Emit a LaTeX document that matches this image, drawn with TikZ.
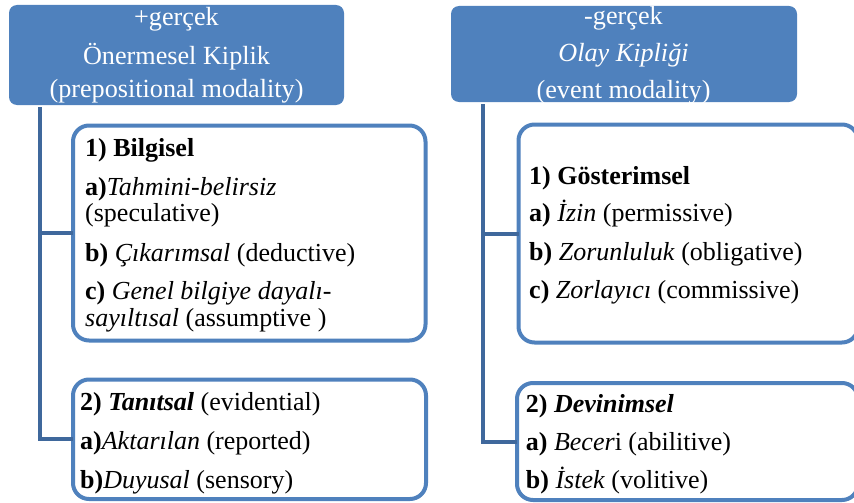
\documentclass[tikz,border=0pt]{standalone}
\usepackage{fontspec}
\setmainfont{Liberation Serif}
\definecolor{hdr}{RGB}{79,129,189}
\definecolor{bord}{RGB}{79,129,189}
\definecolor{connc}{RGB}{63,104,156}
\begin{document}
\begin{tikzpicture}[x=1pt,y=-1pt,
  hdrbox/.style={fill=hdr, draw=none, rounded corners=8pt, inner sep=0pt, outer sep=0pt},
  hdrtxt/.style={text=white, font=\fontsize{26.2}{30}\selectfont, inner sep=0pt, anchor=base},
  catbox/.style={draw=bord, line width=4pt, rounded corners=16pt, inner sep=0pt, outer sep=0pt, fill=white},
  txt/.style={font=\fontsize{26}{27}\selectfont, inner sep=0pt, anchor=base west},
  conn/.style={draw=connc, line width=4pt}]
\useasboundingbox (0,0) rectangle (854,503);

% header boxes
\node[hdrbox, minimum width=335pt, minimum height=100pt] (lh) at (176.5,55) {};
\node[hdrbox, minimum width=346pt, minimum height=96pt] (rh) at (624,54) {};

% category boxes
\node[catbox, minimum width=352.5pt, minimum height=215pt] (lb1) at (249.25,233) {};
\node[catbox, minimum width=353pt, minimum height=119.5pt] (lb2) at (249.5,439.25) {};
\node[catbox, minimum width=339.5pt, minimum height=218pt] (rb1) at (688.25,233.5) {};
\node[catbox, minimum width=341pt, minimum height=117pt] (rb2) at (687.5,441.5) {};

% connectors
\coordinate (lt) at ([xshift=30.5pt, yshift=-2pt]lh.south west);
\coordinate (rt) at ([xshift=32pt, yshift=-2pt]rh.south west);
\draw[conn] (lt) |- (lb2.west);
\draw[conn] (lt |- lb1.west) -- (lb1.west);
\draw[conn] (rt) |- (rb2.west);
\draw[conn] (rt |- rb1.west) -- (rb1.west);

% header texts
\node[hdrtxt] (lh1) at (176.5,26) {+gerçek};
\node[hdrtxt] (lh2) at (176.5,64) {Önermesel Kiplik};
\node[hdrtxt] (lh3) at (176.5,97.7) {(prepositional modality)};
\node[hdrtxt] (rh1) at (623.5,24.3) {-gerçek};
\node[hdrtxt] (rh2) at (623.5,62) {\textit{Olay Kipliği}};
\node[hdrtxt] (rh3) at (623.5,99) {(event modality)};

% left box 1
\node[txt] (l11) at (85,156.7) {\textbf{1) Bilgisel}};
\node[txt] (l12) at (85,195) {\textbf{a)}\textit{Tahmini-belirsiz}};
\node[txt] (l13) at (85,221.7) {(speculative)};
\node[txt] (l14) at (85,261.7) {\textbf{b)} \textit{Çıkarımsal} (deductive)};
\node[txt] (l15) at (85,299) {\textbf{c)} \textit{Genel bilgiye dayalı-}};
\node[txt] (l16) at (85,326.7) {\textit{sayıltısal} (assumptive )};

% left box 2
\node[txt] (l21) at (80,410) {\textbf{2) \textit{Tanıtsal}} (evidential)};
\node[txt] (l22) at (80,449.3) {\textbf{a)}\textit{Aktarılan} (reported)};
\node[txt] (l23) at (80,488.3) {\textbf{b)}\textit{Duyusal} (sensory)};

% right box 1
\node[txt] (r11) at (529,184) {\textbf{1) Gösterimsel}};
\node[txt] (r12) at (529,221.7) {\textbf{a)} \textit{İzin} (permissive)};
\node[txt] (r13) at (529,260) {\textbf{b)} \textit{Zorunluluk} (obligative)};
\node[txt] (r14) at (529,298.3) {\textbf{c)} \textit{Zorlayıcı} (commissive)};

% right box 2
\node[txt] (r21) at (525.7,412.7) {\textbf{2) \textit{Devinimsel}}};
\node[txt] (r22) at (525.7,450.7) {\textbf{a)} \textit{Becer}i (abilitive)};
\node[txt] (r23) at (525.7,488.3) {\textbf{b)} \textit{İstek} (volitive)};
\end{tikzpicture}
\end{document}
